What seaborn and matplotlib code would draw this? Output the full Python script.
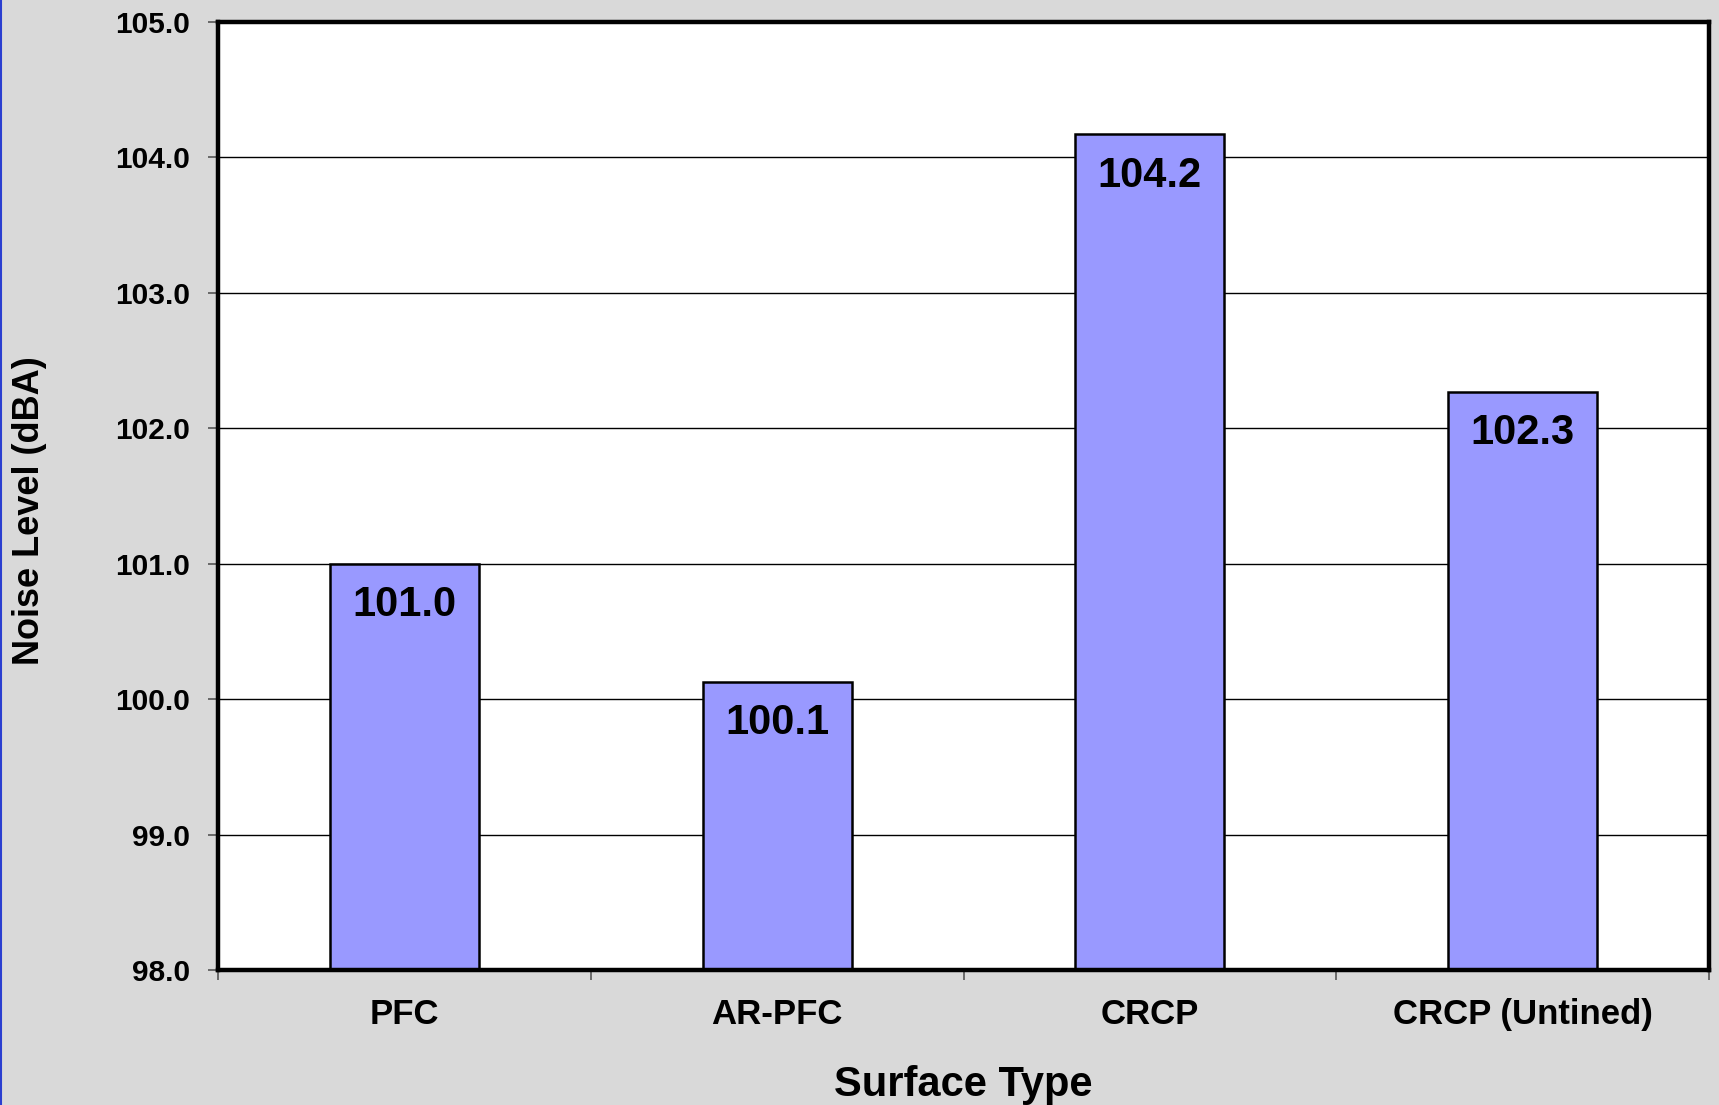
import matplotlib
matplotlib.use("Agg")
import matplotlib.pyplot as plt
import seaborn as sns
import pandas as pd
from matplotlib.ticker import FormatStrFormatter, FixedLocator
from matplotlib.lines import Line2D

categories = ["PFC", "AR-PFC", "CRCP", "CRCP (Untined)"]
noise_levels = [101.0, 100.13, 104.17, 102.27]
y_ticks = [98, 99, 100, 101, 102, 103, 104, 105]

df = pd.DataFrame({"Surface Type": categories, "Noise Level": noise_levels})

sns.set_theme(style="white")
plt.rcParams["font.family"] = ["Liberation Sans", "DejaVu Sans"]
plt.rcParams["font.weight"] = "bold"
plt.rcParams["text.color"] = "black"
plt.rcParams["axes.labelcolor"] = "black"
plt.rcParams["xtick.color"] = "black"
plt.rcParams["ytick.color"] = "black"

fig = plt.figure(figsize=(17.19, 11.05), dpi=100, facecolor="#d9d9d9")
ax = fig.add_axes([218/1719, 1-970/1105, (1709-218)/1719, (970-22)/1105])
ax.set_facecolor("white")

sns.barplot(data=df, x="Surface Type", y="Noise Level", color="#9999ff",
            saturation=1, width=0.4, edgecolor="black", linewidth=1.8,
            ax=ax, zorder=3)

ax.set_ylim(98, 105)
ax.set_xlim(-0.5, 3.5)
ax.set_yticks(y_ticks)
ax.yaxis.set_major_formatter(FormatStrFormatter("%.1f"))
for y in y_ticks[1:-1]:
    ax.axhline(y, color="black", lw=1.0, zorder=1)

for i, v in enumerate(noise_levels):
    ax.annotate(f"{v:.1f}", xy=(i, v), xytext=(0, -38), textcoords="offset points",
                ha="center", va="baseline", fontsize=30, fontweight="bold",
                color="black", zorder=5)

for s in ax.spines.values():
    s.set_linewidth(3.2)
    s.set_color("black")
    s.set_zorder(6)

ax.tick_params(axis="y", which="major", left=True, length=7, width=1.2,
               color="#555555", labelcolor="black", pad=13, labelsize=21.5)
ax.tick_params(axis="x", which="major", length=0, pad=20, labelsize=25,
               labelcolor="black")
ax.xaxis.set_minor_locator(FixedLocator([-0.5, 0.5, 1.5, 2.5, 3.5]))
ax.tick_params(axis="x", which="minor", bottom=True, length=7, width=1.2,
               color="#555555")
for lbl in ax.get_xticklabels() + ax.get_yticklabels():
    lbl.set_fontweight("bold")

ax.set_xlabel("Surface Type", fontsize=30, fontweight="bold", color="black")
ax.set_ylabel("Noise Level (dBA)", fontsize=26, fontweight="bold", color="black")
ax.xaxis.set_label_coords(0.5, -0.100)
ax.yaxis.set_label_coords(-0.115, 0.485)

fig.add_artist(Line2D([0.0006, 0.0006], [0, 1], transform=fig.transFigure,
                      color="#2b3fd0", lw=1.5))

fig.savefig("out.png", dpi=100, facecolor=fig.get_facecolor())
